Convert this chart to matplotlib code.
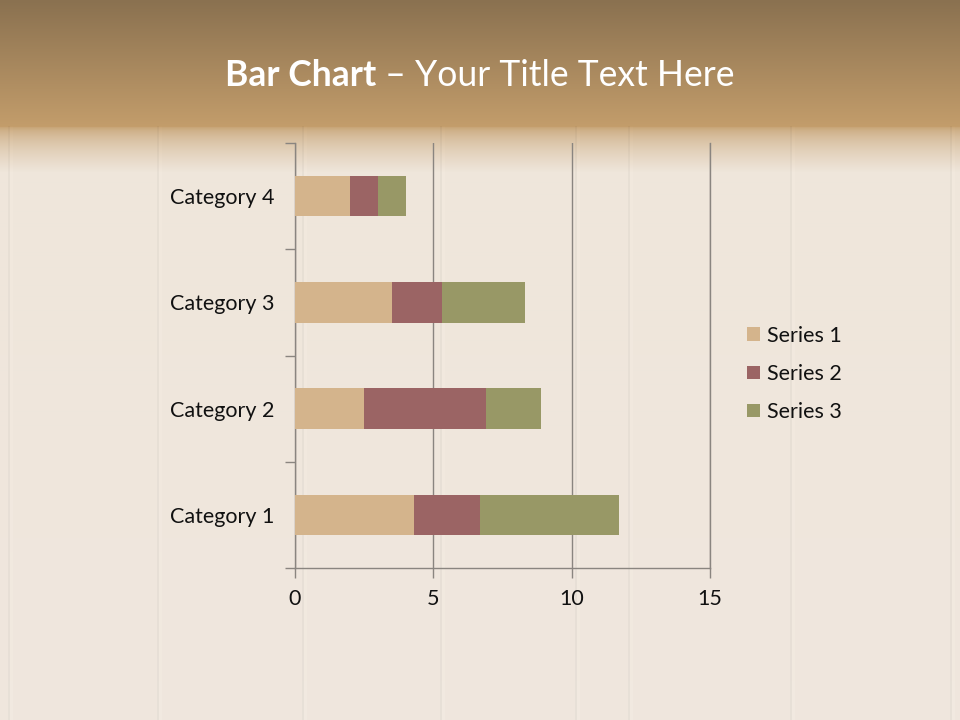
import numpy as np
import matplotlib
matplotlib.use("Agg")
import matplotlib.pyplot as plt
from matplotlib.colors import to_rgb
from matplotlib.patches import Patch

categories = ["Category 1", "Category 2", "Category 3", "Category 4"]
series_names = ["Series 1", "Series 2", "Series 3"]
series1 = [4.3, 2.5, 3.5, 2.0]
series2 = [2.4, 4.4, 1.8, 1.0]
series3 = [5.0, 2.0, 3.0, 1.0]
x_ticks = [0, 5, 10, 15]
colors = ["#D4B48C", "#9B6464", "#989866"]

plt.rcParams['font.family'] = ['Lato', 'DejaVu Sans']

W, H = 960, 720
fig = plt.figure(figsize=(9.6, 7.2), dpi=100)

# ---- background (header gradient + light wood) ----
bg = fig.add_axes([0, 0, 1, 1], zorder=-10)
bg.set_axis_off()
top_c = np.array(to_rgb("#8A7150"))
mid_c = np.array(to_rgb("#C39D6B"))
wood_c = np.array(to_rgb("#EFE6DB"))
wood_b = np.array(to_rgb("#EFE7DE"))
img = np.zeros((H, W, 3))
for r in range(H):
    if r < 126:
        t = r / 126
        c = top_c * (1 - t) + mid_c * t
    elif r < 172:
        t = (r - 126) / 46
        t = t ** 0.55
        c = mid_c * (1 - t) + wood_c * t
    else:
        t = (r - 172) / (H - 172)
        c = wood_c * (1 - t) + wood_b * t
    img[r, :, :] = c
# plank seams
seams = [8, 157, 302, 440, 575, 628, 790, 950]
for s in seams:
    img[126:, s:s + 2, :] *= 0.97
    img[126:, s + 2:s + 5, :] = np.minimum(img[126:, s + 2:s + 5, :] * 1.01, 1)
bg.imshow(img, extent=[0, W, H, 0], aspect='auto', interpolation='bilinear')
bg.set_xlim(0, W)
bg.set_ylim(H, 0)

# ---- title ----
renderer = fig.canvas.get_renderer()
t1 = fig.text(0, 0, "Bar Chart", fontsize=25.6, fontweight='bold', color='white')
t2 = fig.text(0, 0, " \u2013 Your Title Text Here", fontsize=25.6, color='white')
w1 = t1.get_window_extent(renderer).width
w2 = t2.get_window_extent(renderer).width
total = w1 + w2
x0 = (W - total) / 2
ty = 1 - 76 / H
t1.set_position((x0 / W, ty))
t1.set_va('center')
t2.set_position(((x0 + w1) / W, ty))
t2.set_va('center')

# ---- chart ----
ax = fig.add_axes([295 / W, 1 - 568 / H, 415 / W, 425 / H])
ax.patch.set_alpha(0)
y = np.arange(len(categories))
h = 0.38
left = np.zeros(len(categories))
for vals, col, name in zip([series1, series2, series3], colors, series_names):
    ax.barh(y, vals, left=left, height=h, color=col, label=name, zorder=3)
    left = left + np.array(vals)

ax.set_xlim(0, 15)
ax.set_ylim(-0.5, len(categories) - 0.5)
ax.set_xticks(x_ticks)
ax.set_xticklabels([str(v) for v in x_ticks])
ax.set_yticks(y)
ax.set_yticklabels(categories)
ax.set_yticks(np.arange(-0.5, len(categories)), minor=True)
ax.tick_params(axis='y', which='major', length=0, pad=15, labelsize=15.5, labelcolor='#111111')
ax.tick_params(axis='y', which='minor', length=7, color='#8a8580', width=1)
ax.tick_params(axis='x', which='major', length=7, color='#8a8580', width=1, pad=8,
               labelsize=15.5, labelcolor='#111111')
ax.grid(axis='x', color='#8a8580', linewidth=1, zorder=1)
for s in ['top']:
    ax.spines[s].set_visible(False)
for s in ['left', 'bottom', 'right']:
    ax.spines[s].set_color('#8a8580')
    ax.spines[s].set_linewidth(1)

handles = [Patch(facecolor=c, edgecolor='none') for c in colors]
fig.legend(handles, series_names, loc='center left',
           bbox_to_anchor=(728 / W, 1 - 374 / H), frameon=False,
           fontsize=15.5, handlelength=0.6, handleheight=0.6, handletextpad=0.3,
           labelspacing=0.84, labelcolor='#111111')

fig.savefig("out.png", dpi=100)
